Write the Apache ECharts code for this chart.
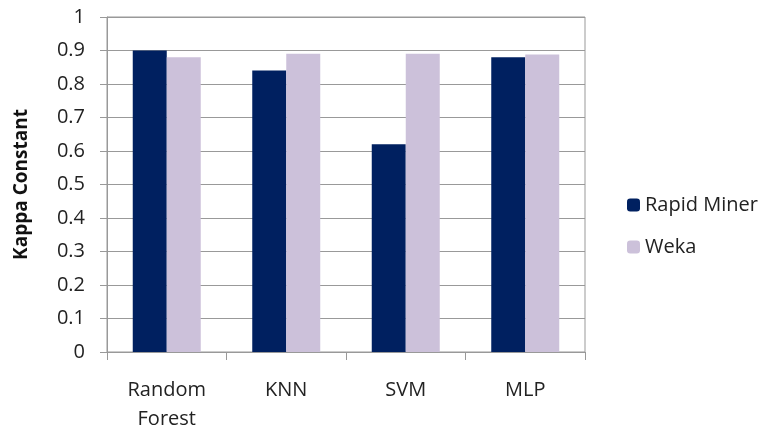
<!DOCTYPE html>
<html>
<head>
<meta charset="utf-8">
<script src="https://cdn.jsdelivr.net/npm/echarts@6/dist/echarts.min.js"></script>
<style>
  html, body { margin: 0; padding: 0; background: #fff; }
  #chart { width: 761px; height: 432px; }
</style>
</head>
<body>
<div id="chart"></div>
<script>
const categories = ['Random\nForest', 'KNN', 'SVM', 'MLP']
const rapidMiner = [0.90, 0.84, 0.62, 0.88]
const weka = [0.88, 0.89, 0.89, 0.888]

const chart = echarts.init(document.getElementById('chart'))
const font = 'Open Sans'

chart.setOption({
  animation: false,
  textStyle: { fontFamily: font },
  grid: {
    left: 107,
    right: 176,
    top: 17,
    bottom: 80,
    outerBoundsMode: 'none',
    show: true,
    borderColor: '#999',
    borderWidth: 1
  },
  legend: {
    orient: 'vertical',
    left: 622,
    top: 190,
    itemWidth: 13,
    itemHeight: 13,
    itemGap: 22,
    textStyle: { fontSize: 20, color: '#222', fontFamily: font },
    data: ['Rapid Miner', 'Weka']
  },
  xAxis: {
    type: 'category',
    data: categories,
    axisLine: { lineStyle: { color: '#999' } },
    axisTick: { show: true, length: 8, lineStyle: { color: '#999' } },
    axisLabel: {
      margin: 24,
      fontSize: 20,
      lineHeight: 29,
      color: '#222',
      fontFamily: font
    }
  },
  yAxis: {
    type: 'value',
    min: 0,
    max: 1,
    interval: 0.1,
    name: 'Kappa Constant',
    nameLocation: 'middle',
    nameGap: 76,
    nameTextStyle: { fontSize: 19, fontWeight: 'bold', color: '#111', fontFamily: font },
    axisLine: { show: true, lineStyle: { color: '#999' } },
    axisTick: { show: true, length: 7, lineStyle: { color: '#999' } },
    splitLine: { lineStyle: { color: '#999' } },
    axisLabel: {
      margin: 22,
      fontSize: 20,
      color: '#222',
      fontFamily: font,
      formatter: v => String(Math.round(v * 10) / 10)
    }
  },
  series: [{
    name: 'Rapid Miner',
    type: 'bar',
    data: rapidMiner,
    barWidth: 34,
    barGap: '0%',
    itemStyle: { color: '#002060' }
  }, {
    name: 'Weka',
    type: 'bar',
    data: weka,
    barWidth: 34,
    barGap: '0%',
    itemStyle: { color: '#ccc1da' }
  }]
})
</script>
</body>
</html>
